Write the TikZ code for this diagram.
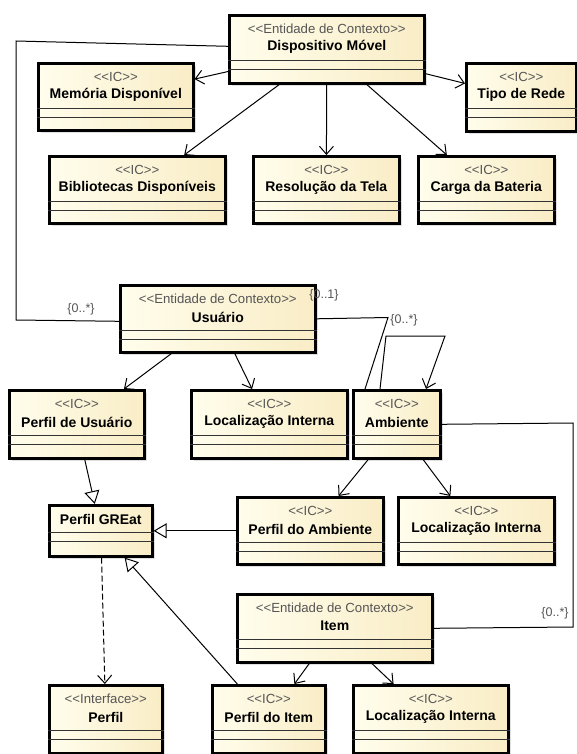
\documentclass[tikz,border=0pt]{standalone}
\usepackage{fontspec}
\setmainfont{Liberation Sans}
\usetikzlibrary{arrows.meta,shadows}

\definecolor{boxlight}{RGB}{255,253,236}
\definecolor{boxdark}{RGB}{249,237,198}
\definecolor{stereogray}{RGB}{85,85,85}

% << and >> kept apart, else the font turns them into guillemets
\newcommand{\stOpen}{<\kern0pt<}
\newcommand{\stClose}{>\kern0pt>}

\tikzset{
  classbox/.style={draw=black, line width=2.6pt, left color=boxlight, right color=boxdark,
    inner sep=0pt, anchor=north west,
    drop shadow={shadow xshift=3pt, shadow yshift=-3pt, fill=black!35, opacity=0.35}},
  comp/.style={draw=black!80, line width=0.9pt},
  stereo/.style={font=\fontsize{13.2}{13.2}\selectfont, text=stereogray, inner sep=0pt},
  title/.style={font=\fontsize{14}{14}\selectfont\bfseries, inner sep=0pt},
  mult/.style={font=\fontsize{12.5}{12.5}\selectfont, text=stereogray, inner sep=0pt},
  link/.style={line width=1pt},
  assoc/.style={line width=1pt, -{Straight Barb[length=8pt,width=14pt]}},
  gen/.style={line width=1pt, -{Triangle[open,length=13pt,width=15pt,fill=white]}},
  real/.style={line width=1pt, dash pattern=on 6pt off 3pt, -{Straight Barb[length=8pt,width=14pt]}},
}

% name, x, y (top left), width, height, stereotype, title
\newcommand{\icbox}[7]{%
  \node[classbox, minimum width=#4pt, minimum height=#5pt] (#1) at (#2,#3) {};
  \draw[comp] ([yshift=-46pt]#1.north west) -- ([yshift=-46pt]#1.north east);
  \draw[comp] ([yshift=-55pt]#1.north west) -- ([yshift=-55pt]#1.north east);
  \node[stereo] at ([yshift=-15pt]#1.north) {\stOpen#6\stClose};
  \node[title] at ([yshift=-33pt]#1.north) {#7};
}
% same, without stereotype
\newcommand{\plainbox}[6]{%
  \node[classbox, minimum width=#4pt, minimum height=#5pt] (#1) at (#2,#3) {};
  \draw[comp] ([yshift=-28pt]#1.north west) -- ([yshift=-28pt]#1.north east);
  \draw[comp] ([yshift=-37pt]#1.north west) -- ([yshift=-37pt]#1.north east);
  \node[title] at ([yshift=-15pt]#1.north) {#6};
}

\begin{document}
\begin{tikzpicture}[x=1pt, y=-1pt]
  \useasboundingbox (0,0) rectangle (576,754);

  % dispositivo
  \icbox{disp}{228}{14}{195}{68}{Entidade de Contexto}{Dispositivo Móvel}
  \icbox{mem}{37}{62}{155}{67}{IC}{Memória Disponível}
  \icbox{tipo}{465}{62}{110}{68}{IC}{Tipo de Rede}
  \icbox{bib}{48}{155}{176}{67}{IC}{Bibliotecas Disponíveis}
  \icbox{res}{252}{155}{146}{67}{IC}{Resolução da Tela}
  \icbox{carga}{417}{155}{136}{67}{IC}{Carga da Bateria}

  % usuario e ambiente
  \icbox{usu}{119}{284}{195}{67}{Entidade de Contexto}{Usuário}
  \icbox{pusu}{8}{389}{135}{68}{IC}{Perfil de Usuário}
  \icbox{locu}{190}{389}{156}{68}{IC}{Localização Interna}
  \icbox{amb}{352}{389}{87}{68}{IC}{Ambiente}
  \plainbox{great}{48}{504}{103}{51}{Perfil GREat}
  \icbox{pamb}{236}{496}{146}{67}{IC}{Perfil do Ambiente}
  \icbox{loca}{397}{496}{156}{67}{IC}{Localização Interna}

  % item
  \icbox{item}{236}{593}{195}{68}{Entidade de Contexto}{Item}
  \icbox{perfil}{48}{684}{113}{68}{Interface}{Perfil}
  \icbox{pitem}{211}{684}{113}{68}{IC}{Perfil do Item}
  \icbox{loci}{352}{684}{155}{68}{IC}{Localização Interna}

  \draw[assoc] (disp) -- (mem);
  \draw[assoc] (disp) -- (tipo);
  \draw[assoc] (disp) -- (bib);
  \draw[assoc] (disp) -- (res);
  \draw[assoc] (disp) -- (carga);
  \draw[assoc] (usu) -- (pusu);
  \draw[assoc] (usu) -- (locu);
  \draw[assoc] (amb) -- (pamb);
  \draw[assoc] (amb) -- (loca);
  \draw[assoc] (item) -- (pitem);
  \draw[assoc] (item) -- (loci);

  \draw[gen] (pusu) -- (great);
  \draw[gen] (pamb) -- (great);
  \draw[gen] (pitem) -- (great);
  \draw[real] (great) -- (perfil);

  \draw[link] ([yshift=3pt]disp.west) -- (16,41) -- (16,320) -- ([yshift=-2.5pt]usu.west);
  \draw[link] (usu.east) -- (388,317.5) -- ([xshift=13pt]amb.north west);
  \draw[assoc] ([xshift=28pt]amb.north west) -- (386,336) -- (445,336) -- ([xshift=74pt]amb.north west);
  \draw[link] (amb.east) -- (573,423) -- (573,627) -- (item.east);

  \node[mult] (m1) at (81,309) {\{0..*\}};
  \node[mult] (m2) at (324,295) {\{0..1\}};
  \node[mult] (m3) at (404,320) {\{0..*\}};
  \node[mult] (m4) at (555,613) {\{0..*\}};
\end{tikzpicture}
\end{document}
